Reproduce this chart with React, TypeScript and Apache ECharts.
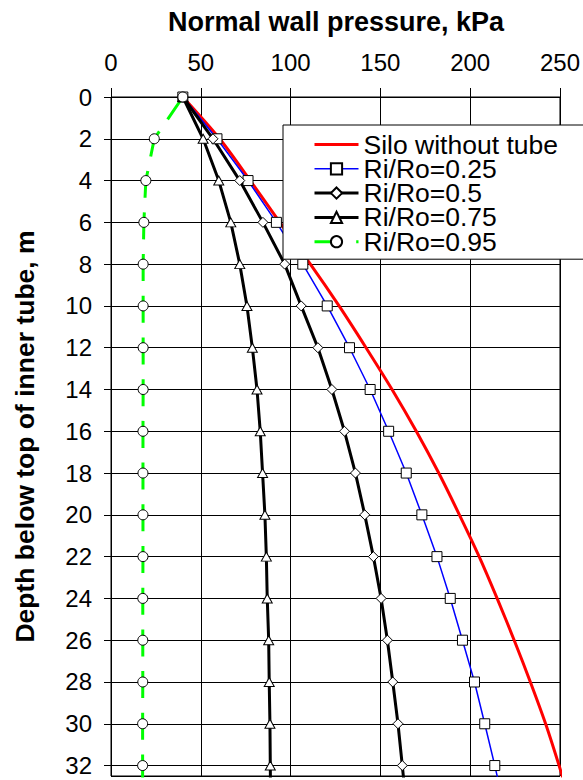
import React, { useEffect, useRef } from "react";
import * as echarts from "echarts";

const depths = [0, 2, 4, 6, 8, 10, 12, 14, 16, 18, 20, 22, 24, 26, 28, 30, 32, 34];
const siloWithoutTube = [40, 60.5, 77.5, 94, 111, 127, 142, 156.5, 170, 182.5, 194, 205, 215, 224.5, 233.5, 242, 249.5, 256.5];
const ratio025 = [40, 59, 76.3, 92.1, 106.8, 120.4, 132.8, 144.3, 154.6, 164.4, 173.1, 181.5, 188.9, 195.7, 202.4, 208.1, 213.7, 219];
const ratio05 = [40, 56.8, 71.7, 84.6, 96.7, 105.9, 115.2, 123, 130, 136.1, 141.3, 146.1, 150.4, 153.9, 156.9, 159.8, 162.2, 164.5];
const ratio075 = [40, 51.3, 60, 66.7, 71.7, 75.7, 78.7, 81.3, 83.1, 84.4, 85.7, 86.5, 87, 87.8, 88.1, 88.5, 88.7, 88.9];
const ratio095 = [40, 24.1, 19.4, 18.3, 17.9, 17.9, 17.9, 17.9, 17.8, 17.8, 17.8, 17.8, 17.7, 17.7, 17.7, 17.6, 17.6, 17.6];
const seriesNames = ["Silo without tube", "Ri/Ro=0.25", "Ri/Ro=0.5", "Ri/Ro=0.75", "Ri/Ro=0.95"];
const legendLineWidths = [3, 1.5, 3, 3, 3];
const xTitle = "Normal wall pressure, kPa";
const yTitle = "Depth below top of inner tube, m";

const FONT = "'Liberation Sans', Arial, sans-serif";

const pairs = (vals: number[]) => vals.map((v, i) => [v, depths[i]]);

export default function App() {
  const ref = useRef<HTMLDivElement>(null);
  useEffect(() => {
    if (!ref.current) return;
    const chart = echarts.init(ref.current, undefined, { renderer: "svg" });
    const markerStyle = { color: "#fff", borderColor: "#000", borderWidth: 1 };
    chart.setOption({
      animation: false,
      backgroundColor: "#fff",
      grid: {
        left: 111,
        top: 97,
        width: 450,
        height: 679,
        show: true,
        borderColor: "#000",
        borderWidth: 1,
        backgroundColor: "transparent",
      },
      legend: {
        orient: "vertical",
        left: 283,
        top: 125,
        backgroundColor: "#fff",
        borderColor: "#000",
        borderWidth: 1,
        borderRadius: 0,
        padding: [6, 80, 4, 30],
        itemGap: -2.7,
        itemWidth: 44,
        itemHeight: 14,
        data: seriesNames.map((name, i) => ({ name, lineStyle: { width: legendLineWidths[i] } })),
        textStyle: { fontSize: 26.5, fontFamily: FONT, color: "#000" },
      },
      xAxis: {
        type: "value",
        position: "top",
        min: 0,
        max: 250,
        interval: 50,
        axisLine: { show: true, lineStyle: { color: "#000", width: 1 } },
        axisTick: { show: true, length: 9, lineStyle: { color: "#000" } },
        axisLabel: { fontSize: 24, fontFamily: FONT, color: "#000", margin: 23 },
        splitLine: { show: true, lineStyle: { color: "#000", width: 1 } },
      },
      yAxis: {
        type: "value",
        inverse: true,
        min: 0,
        max: 32.5,
        interval: 2,
        axisLine: { show: true, lineStyle: { color: "#000", width: 1 } },
        axisTick: { show: true, length: 7, lineStyle: { color: "#000" } },
        axisLabel: { fontSize: 24, fontFamily: FONT, color: "#000", margin: 19, showMaxLabel: false },
        splitLine: { show: true, lineStyle: { color: "#000", width: 1 } },
      },
      graphic: [
        {
          type: "text",
          x: 336,
          y: 22,
          style: {
            text: xTitle,
            fontSize: 27,
            fontWeight: "bold",
            fontFamily: FONT,
            fill: "#000",
            textAlign: "center",
            textVerticalAlign: "middle",
          },
        },
        {
          type: "text",
          x: 25,
          y: 436.5,
          rotation: Math.PI / 2,
          style: {
            text: yTitle,
            fontSize: 26.5,
            fontWeight: "bold",
            fontFamily: FONT,
            fill: "#000",
            textAlign: "center",
            textVerticalAlign: "middle",
          },
        },
      ],
      series: [
        {
          name: seriesNames[0],
          type: "line",
          data: pairs(siloWithoutTube),
          smooth: 0.3,
          symbol: "none",
          lineStyle: { color: "#ff0000", width: 3 },
          itemStyle: { color: "rgba(0,0,0,0)", borderWidth: 0 },
        },
        {
          name: seriesNames[1],
          type: "line",
          data: pairs(ratio025),
          symbol: "rect",
          symbolSize: 10,
          lineStyle: { color: "#0000ff", width: 1.5 },
          itemStyle: markerStyle,
        },
        {
          name: seriesNames[2],
          type: "line",
          data: pairs(ratio05),
          symbol: "diamond",
          symbolSize: [10, 10],
          lineStyle: { color: "#000", width: 3 },
          itemStyle: markerStyle,
        },
        {
          name: seriesNames[3],
          type: "line",
          data: pairs(ratio075),
          symbol: "triangle",
          symbolSize: [10, 9],
          lineStyle: { color: "#000", width: 3 },
          itemStyle: markerStyle,
        },
        {
          name: seriesNames[4],
          type: "line",
          data: pairs(ratio095),
          symbol: "circle",
          symbolSize: 10,
          lineStyle: { color: "#00ff00", width: 3, type: [27, 14.7] },
          itemStyle: markerStyle,
        },
      ],
    });
    return () => chart.dispose();
  }, []);
  return (
    <div
      ref={ref}
      style={{ position: "fixed", left: 0, top: 0, width: 583, height: 780, background: "#fff" }}
    />
  );
}
